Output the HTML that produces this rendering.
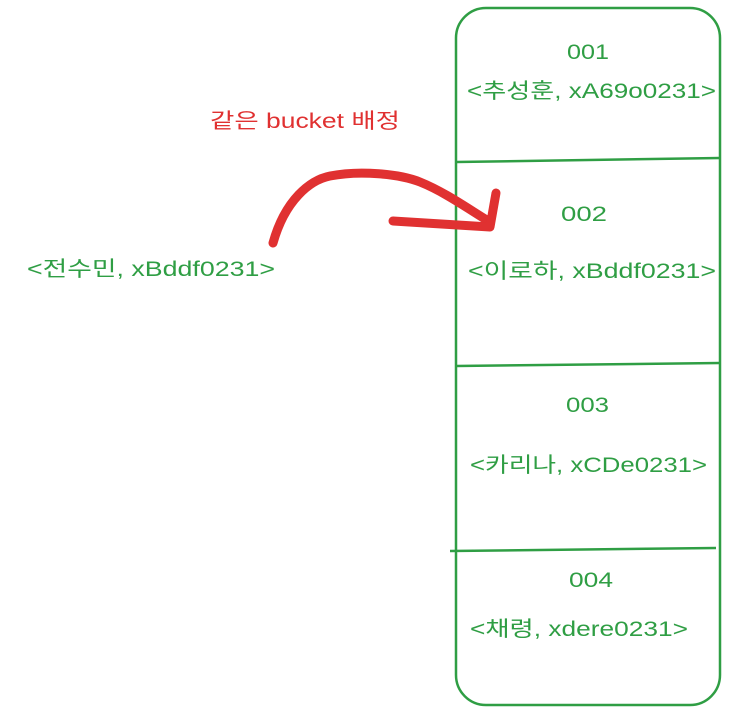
<!DOCTYPE html>
<html><head><meta charset="utf-8"><style>
body{margin:0;background:#fff;width:742px;height:717px;overflow:hidden}
text{font-family:"Liberation Sans","Noto Sans CJK KR",sans-serif;font-size:21px;fill:#2f9e44}
</style></head><body>
<svg width="742" height="717">
<rect x="456" y="8" width="264" height="697" rx="30" fill="none" stroke="#2f9e44" stroke-width="2.5"/>
<line x1="456" y1="162" x2="720" y2="158" stroke="#2f9e44" stroke-width="2.5"/>
<line x1="456" y1="366" x2="720" y2="363" stroke="#2f9e44" stroke-width="2.5"/>
<line x1="450" y1="551" x2="716" y2="548" stroke="#2f9e44" stroke-width="2.5"/>
<g lengthAdjust="spacingAndGlyphs">
<text x="567" y="59" textLength="42" lengthAdjust="spacingAndGlyphs">001</text>
<text x="467" y="98" textLength="249" lengthAdjust="spacingAndGlyphs">&lt;추성훈, xA69o0231&gt;</text>
<text x="561" y="221" textLength="46" lengthAdjust="spacingAndGlyphs">002</text>
<text x="468" y="278" textLength="248" lengthAdjust="spacingAndGlyphs">&lt;이로하, xBddf0231&gt;</text>
<text x="566" y="412" textLength="43" lengthAdjust="spacingAndGlyphs">003</text>
<text x="470" y="472" textLength="237" lengthAdjust="spacingAndGlyphs">&lt;카리나, xCDe0231&gt;</text>
<text x="569" y="587" textLength="44" lengthAdjust="spacingAndGlyphs">004</text>
<text x="470" y="636" textLength="218" lengthAdjust="spacingAndGlyphs">&lt;채령, xdere0231&gt;</text>
<text x="27" y="276" textLength="248" lengthAdjust="spacingAndGlyphs">&lt;전수민, xBddf0231&gt;</text>
<text x="210" y="128" textLength="190" lengthAdjust="spacingAndGlyphs" style="fill:#e03131">같은 bucket 배정</text>
</g>
<g fill="none" stroke="#e03131" stroke-width="9" stroke-linecap="round" stroke-linejoin="round">
<path d="M273 243 C285 200 310 180 330 176 C360 170 400 174 420 182 C445 192 470 210 490 222"/>
<path d="M393 221 L490 227 L496 193"/>
</g>
</svg>
</body></html>
